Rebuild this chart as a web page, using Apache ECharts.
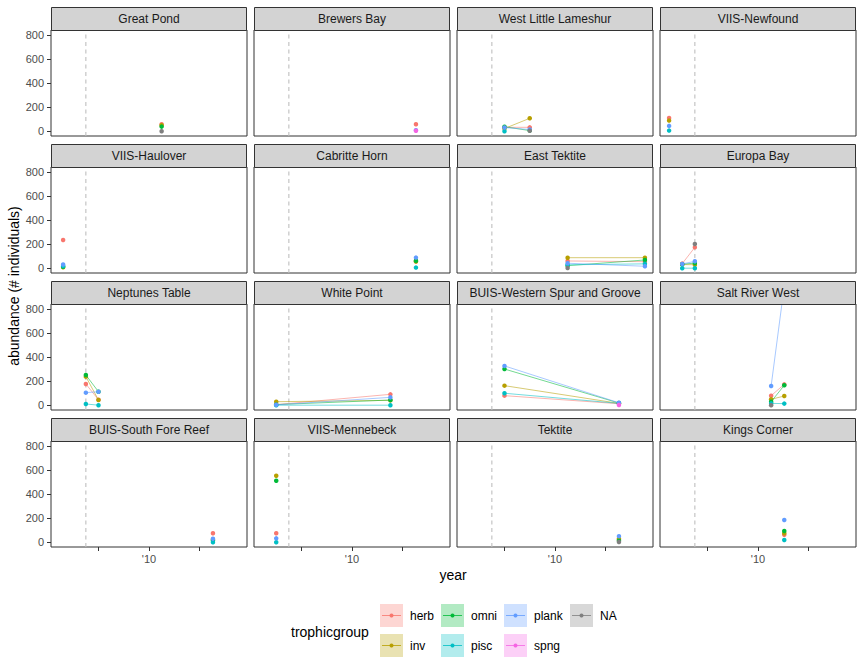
<!DOCTYPE html>
<html>
<head>
<meta charset="utf-8">
<script src="https://cdn.jsdelivr.net/npm/echarts@6.0.0/dist/echarts.min.js"></script>
<style>html,body{margin:0;padding:0;background:#fff;}#c{width:864px;height:672px;}</style>
</head>
<body>
<div id="c"></div>
<script>
// ---- data ----
const groups = ['herb','inv','omni','pisc','plank','spng','NA'];
const groupColors = ['#F8766D','#B79F00','#00BA38','#00BFC4','#619CFF','#F564E3','#7F7F7F'];
const sites = ['Great Pond','Brewers Bay','West Little Lameshur','VIIS-Newfound',
  'VIIS-Haulover','Cabritte Horn','East Tektite','Europa Bay',
  'Neptunes Table','White Point','BUIS-Western Spur and Groove','Salt River West',
  'BUIS-South Fore Reef','VIIS-Mennebeck','Tektite','Kings Corner'];
// rows: [trophic group, year, abundance]
const greatPond = [['herb',2011.25,57],['inv',2011.25,50],['omni',2011.25,38],['NA',2011.25,0]];
const brewersBay = [['herb',2016.33,57],['plank',2016.33,8],['spng',2016.33,3]];
const westLittleLameshur = [['herb',2005,32],['herb',2007.5,32],['inv',2005,22],['inv',2007.5,107],['omni',2005,37],['omni',2007.5,5],['pisc',2005,0],['plank',2005,30],['plank',2007.5,14],['NA',2007.5,3]];
const viisNewfound = [['herb',2001.2,110],['inv',2001.2,88],['plank',2001.2,44],['pisc',2001.2,5]];
const viisHaulover = [['herb',2001.5,234],['inv',2001.5,8],['omni',2001.5,12],['pisc',2001.5,18],['plank',2001.5,30]];
const cabritteHorn = [['herb',2016.33,58],['inv',2016.33,55],['omni',2016.33,62],['pisc',2016.33,5],['plank',2016.33,88]];
const eastTektite = [['herb',2011.25,60],['herb',2018.9,54],['inv',2011.25,87],['inv',2018.9,87],['omni',2011.25,21],['omni',2018.9,68],['pisc',2011.25,28],['pisc',2018.9,36],['plank',2011.25,41],['plank',2018.9,16],['NA',2011.25,2]];
const europaBay = [['herb',2002.5,38],['herb',2003.75,173],['inv',2002.5,30],['inv',2003.75,29],['omni',2002.5,33],['omni',2003.75,42],['pisc',2002.5,0],['pisc',2003.75,0],['plank',2002.5,35],['plank',2003.75,57],['NA',2003.75,201]];
const neptunesTable = [['herb',2003.75,176],['herb',2005,45],['inv',2003.75,237],['inv',2005,43],['omni',2003.75,250],['omni',2005,112],['pisc',2003.75,10],['pisc',2005,0],['plank',2003.75,104],['plank',2005,112]];
const whitePoint = [['herb',2002.5,5],['herb',2013.8,90],['inv',2002.5,29],['inv',2013.8,40],['omni',2002.5,5],['omni',2013.8,43],['pisc',2002.5,0],['pisc',2013.8,0],['plank',2002.5,3],['plank',2013.8,65]];
const westernSpur = [['herb',2005,79],['herb',2016.33,12],['inv',2005,162],['inv',2016.33,15],['omni',2005,300],['omni',2016.33,18],['pisc',2005,99],['pisc',2016.33,15],['plank',2005,326],['plank',2016.33,20],['spng',2016.33,2]];
const saltRiverWest = [['herb',2011.3,79],['herb',2012.6,173],['inv',2011.3,49],['inv',2012.6,76],['omni',2011.3,29],['omni',2012.6,165],['pisc',2011.3,15],['pisc',2012.6,13],['plank',2011.3,159],['plank',2012.6,990],['NA',2011.3,0]];
const southForeReef = [['herb',2016.33,74],['inv',2016.33,22],['omni',2016.33,15],['pisc',2016.33,0],['plank',2016.33,28]];
const viisMennebeck = [['herb',2002.5,74],['inv',2002.5,552],['omni',2002.5,510],['pisc',2002.5,0],['plank',2002.5,32]];
const tektite = [['herb',2016.33,20],['inv',2016.33,28],['omni',2016.33,12],['plank',2016.33,50],['NA',2016.33,2]];
const kingsCorner = [['herb',2012.6,62],['inv',2012.6,74],['omni',2012.6,93],['pisc',2012.6,18],['plank',2012.6,184]];
const siteData = [greatPond,brewersBay,westLittleLameshur,viisNewfound,viisHaulover,cabritteHorn,eastTektite,europaBay,
  neptunesTable,whitePoint,westernSpur,saltRiverWest,southForeReef,viisMennebeck,tektite,kingsCorner];
const refYear = 2003.75;            // dashed reference line
const xTicks = [2005, 2010, 2015];
const xTickLabels = ['', "'10", ''];
const yTicks = [0, 200, 400, 600, 800];
const xLimits = [2000.3, 2019.7];
const yLimits = [-40, 840];

// ---- layout ----
const colLefts = [51, 254, 457, 660];
const rowTops = [30, 167, 304, 441];
const panelW = 196, panelH = 106, stripH = 23;
const FONT = '"Liberation Sans", Arial, Helvetica, sans-serif';

const grids = [], xAxes = [], yAxes = [], series = [], graphics = [];
sites.forEach((site, i) => {
  const r = Math.floor(i / 4), c = i % 4;
  grids.push({left: colLefts[c], top: rowTops[r], width: panelW, height: panelH,
    show: true, borderColor: '#333333', borderWidth: 1, backgroundColor: '#fff', containLabel: false});
  xAxes.push({gridIndex: i, type: 'value', min: xLimits[0], max: xLimits[1],
    axisLine: {show: false, onZero: false},
    axisTick: {show: r === 3, customValues: xTicks, length: 4, lineStyle: {color: '#333333'}},
    axisLabel: {show: r === 3, customValues: xTicks, margin: 6, color: '#4D4D4D', fontSize: 11, fontFamily: FONT,
      formatter: v => xTickLabels[xTicks.indexOf(v)] ?? ''},
    splitLine: {show: false}});
  yAxes.push({gridIndex: i, type: 'value', min: yLimits[0], max: yLimits[1],
    axisLine: {show: false, onZero: false},
    axisTick: {show: c === 0, customValues: yTicks, length: 4, lineStyle: {color: '#333333'}},
    axisLabel: {show: c === 0, customValues: yTicks, margin: 7, color: '#4D4D4D', fontSize: 11, fontFamily: FONT},
    splitLine: {show: false}});
  // strip
  graphics.push({type: 'rect', shape: {x: colLefts[c] + 0.5, y: rowTops[r] - stripH + 0.5, width: panelW - 1, height: stripH},
    style: {fill: '#D3D3D3', stroke: '#333333', lineWidth: 1}, z: 10});
  graphics.push({type: 'text', x: colLefts[c] + panelW / 2, y: rowTops[r] - stripH / 2,
    style: {text: site, fill: '#1A1A1A', font: '12px ' + FONT, align: 'center', verticalAlign: 'middle'}, z: 11});
  // dashed reference line
  series.push({type: 'line', xAxisIndex: i, yAxisIndex: i, silent: true, symbol: 'none', z: 1,
    data: [[refYear, yLimits[0]], [refYear, yLimits[1]]],
    lineStyle: {color: '#BEBEBE', width: 1.1, type: [4, 3.5]}});
  groups.forEach((g, gi) => {
    const pts = siteData[i].filter(d => d[0] === g).map(d => [d[1], d[2]]);
    if (!pts.length) return;
    series.push({type: 'line', name: g, xAxisIndex: i, yAxisIndex: i, data: pts, z: 2 + gi,
      symbol: 'circle', symbolSize: 4.5, showSymbol: true, clip: true, animation: false,
      itemStyle: {color: groupColors[gi]},
      lineStyle: {color: groupColors[gi], width: 1, opacity: 0.55}});
  });
});

// axis titles
graphics.push({type: 'text', x: 453, y: 575, style: {text: 'year', fill: '#000', font: '14px ' + FONT, align: 'center', verticalAlign: 'middle'}});
graphics.push({type: 'text', x: 14, y: 286, rotation: Math.PI / 2,
  style: {text: 'abundance (# individuals)', fill: '#000', font: '14px ' + FONT, align: 'center', verticalAlign: 'middle'}});

// legend (columns: herb/inv, omni/pisc, plank/spng, NA)
graphics.push({type: 'text', x: 291, y: 632, style: {text: 'trophicgroup', fill: '#000', font: '14px ' + FONT, align: 'left', verticalAlign: 'middle'}});
const legKeyX = [380, 441, 504, 570];
const legKeyY = [604, 634];
const keySize = 23;
groups.forEach((g, gi) => {
  const col = Math.floor(gi / 2), row = gi % 2;
  const kx = legKeyX[col], ky = legKeyY[row];
  graphics.push({type: 'rect', shape: {x: kx, y: ky, width: keySize, height: keySize}, style: {fill: groupColors[gi], opacity: 0.3}});
  graphics.push({type: 'line', shape: {x1: kx + 2, y1: ky + keySize / 2, x2: kx + keySize - 2, y2: ky + keySize / 2},
    style: {stroke: groupColors[gi], lineWidth: 1, opacity: 0.8}});
  graphics.push({type: 'circle', shape: {cx: kx + keySize / 2, cy: ky + keySize / 2, r: 2}, style: {fill: groupColors[gi]}});
  graphics.push({type: 'text', x: kx + keySize + 7, y: ky + keySize / 2,
    style: {text: g, fill: '#000', font: '12px ' + FONT, align: 'left', verticalAlign: 'middle'}});
});

const chart = echarts.init(document.getElementById('c'), null, {renderer: 'svg'});
chart.setOption({
  animation: false,
  backgroundColor: '#fff',
  grid: grids, xAxis: xAxes, yAxis: yAxes, series: series,
  graphic: graphics
});
</script>
</body>
</html>
